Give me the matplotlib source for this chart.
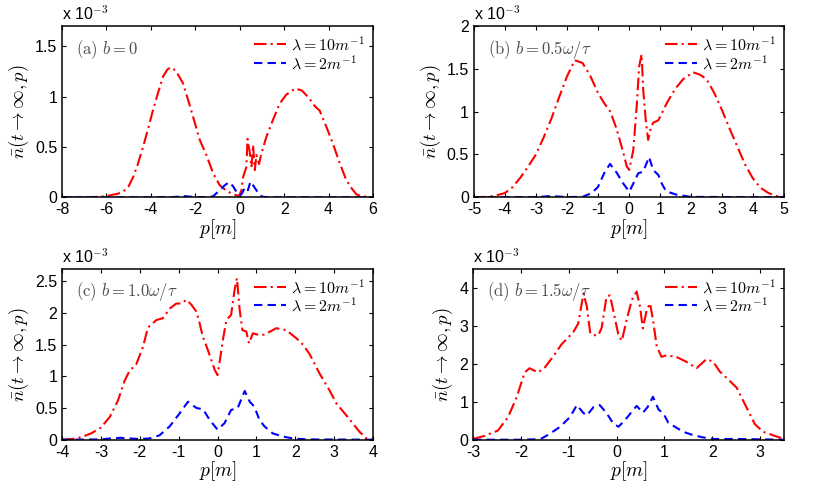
import matplotlib
matplotlib.use("Agg")
import matplotlib.pyplot as plt
from matplotlib.ticker import FuncFormatter

plt.rcParams['font.family'] = ['Liberation Sans', 'DejaVu Sans']
plt.rcParams['mathtext.fontset'] = 'cm'
plt.rcParams['axes.unicode_minus'] = False

# values are in units of 1e-3

# (a) b = 0
pa_red = [-8, -7, -6.5, -6, -5.5, -5.25, -5, -4.8, -4.6, -4.35, -4.1, -3.9, -3.7, -3.45, -3.25, -3.1,
          -2.9, -2.7, -2.55, -2.3, -2.1, -1.8, -1.5, -1.2, -0.9, -0.6, -0.3, -0.03, 0.08, 0.15, 0.3,
          0.35, 0.45, 0.53, 0.6, 0.68, 0.75, 0.87, 0.97, 1.2, 1.5, 1.8, 2.1, 2.5, 2.8, 3.1, 3.4, 3.6,
          3.9, 4.2, 4.5, 4.8, 5.0, 5.25, 5.5, 6]
na_red = [0, 0, 0.003, 0.012, 0.035, 0.056, 0.11, 0.2, 0.32, 0.5, 0.7, 0.87, 1.02, 1.2, 1.27, 1.29,
          1.26, 1.19, 1.13, 0.95, 0.8, 0.57, 0.42, 0.24, 0.12, 0.065, 0.03, 0.013, 0.07, 0.2, 0.3,
          0.58, 0.45, 0.3, 0.52, 0.27, 0.42, 0.33, 0.43, 0.6, 0.77, 0.93, 1.02, 1.08, 1.06, 0.99, 0.9, 0.86,
          0.7, 0.53, 0.34, 0.17, 0.1, 0.03, 0.01, 0.0]
pa_blue = [-8, -4, -3, -2.7, -2.5, -2.3, -2, -1.5, -1.2, -0.9, -0.67, -0.48, -0.3, -0.15, -0.03, 0.08,
           0.22, 0.3, 0.37, 0.48, 0.6, 0.75, 0.9, 1.05, 1.3, 2, 6]
na_blue = [0, 0, 0.002, 0.008, 0.012, 0.008, 0.003, 0.002, 0.01, 0.07, 0.12, 0.15, 0.11, 0.055, 0.02, 0.03,
           0.09, 0.1, 0.07, 0.155, 0.12, 0.07, 0.02, 0.005, 0, 0, 0]

# (b) b = 0.5 w/tau
pb_red = [-5, -4.6, -4.3, -4, -3.75, -3.5, -3.25, -3, -2.75, -2.5, -2.25, -2, -1.75, -1.5, -1.25, -1,
          -0.8, -0.6, -0.4, -0.18, -0.07, 0.01, 0.14, 0.25, 0.33, 0.41, 0.46, 0.55, 0.62, 0.7, 0.78,
          0.95, 1.25, 1.5, 1.75, 2.07, 2.3, 2.5, 2.75, 3, 3.25, 3.5, 3.75, 4, 4.25, 4.5, 4.75, 5]
nb_red = [0, 0.005, 0.02, 0.05, 0.12, 0.23, 0.36, 0.5, 0.7, 0.92, 1.17, 1.41, 1.6, 1.57, 1.42, 1.22,
          1.1, 1.0, 0.8, 0.52, 0.36, 0.32, 0.55, 1.06, 1.53, 1.67, 1.26, 0.87, 0.67, 0.8, 0.87,
          0.9, 1.12, 1.27, 1.38, 1.46, 1.43, 1.38, 1.22, 1.02, 0.8, 0.59, 0.38, 0.22, 0.11, 0.05, 0.015, 0.005]
pb_blue = [-5, -3, -2.7, -2.5, -2.3, -2, -1.5, -1.2, -1, -0.8, -0.61, -0.4, -0.18, 0.01, 0.14, 0.3,
           0.46, 0.65, 0.78, 0.95, 1.06, 1.2, 1.54, 2, 5]
nb_blue = [0, 0.002, 0.01, 0.015, 0.01, 0.003, 0.005, 0.05, 0.12, 0.28, 0.39, 0.29, 0.16, 0.066, 0.16, 0.28,
           0.3, 0.47, 0.32, 0.26, 0.16, 0.07, 0.03, 0.005, 0]

# (c) b = 1.0 w/tau
pc_red = [-4, -3.75, -3.5, -3.25, -3, -2.77, -2.56, -2.39, -2.26, -2.09, -1.92, -1.79, -1.57, -1.4,
          -1.23, -1.06, -0.93, -0.8, -0.67, -0.54, -0.46, -0.38, -0.25, -0.16, -0.07, 0.0, 0.05, 0.14,
          0.23, 0.35, 0.44, 0.5, 0.57, 0.64, 0.74, 0.81, 0.91, 1.08, 1.21, 1.51, 1.77, 2.03, 2.2, 2.37,
          2.63, 2.89, 3.06, 3.32, 3.49, 3.66, 3.83, 4]
nc_red = [0, 0.01, 0.04, 0.1, 0.19, 0.36, 0.62, 0.93, 1.09, 1.19, 1.46, 1.77, 1.89, 1.92,
          2.07, 2.15, 2.15, 2.21, 2.13, 2.02, 1.84, 1.63, 1.42, 1.26, 1.1, 1.02, 1.21, 1.58,
          1.89, 1.97, 2.37, 2.55, 2.05, 1.73, 1.71, 1.52, 1.68, 1.65, 1.66, 1.76, 1.73, 1.6, 1.5, 1.35,
          1.04, 0.77, 0.57, 0.38, 0.25, 0.12, 0.02, 0]
pc_blue = [-4, -3, -2.75, -2.5, -2.25, -2, -1.75, -1.49, -1.23, -0.97, -0.76, -0.54, -0.37, -0.2, 0.0,
           0.18, 0.35, 0.52, 0.7, 0.83, 0.95, 1.08, 1.21, 1.42, 1.68, 1.94, 2.3, 4]
nc_blue = [0, 0.005, 0.02, 0.03, 0.02, 0.01, 0.02, 0.07, 0.21, 0.42, 0.6, 0.5, 0.48, 0.31, 0.16,
           0.26, 0.47, 0.5, 0.77, 0.6, 0.52, 0.31, 0.21, 0.1, 0.05, 0.02, 0.005, 0]

# (d) b = 1.5 w/tau
pd_red = [-3, -2.76, -2.48, -2.27, -2.09, -1.92, -1.82, -1.64, -1.5, -1.29, -1.15, -1.01, -0.9, -0.8,
          -0.69, -0.62, -0.55, -0.48, -0.38, -0.31, -0.21, -0.14, -0.07, 0.04, 0.11, 0.21, 0.32, 0.42,
          0.49, 0.55, 0.63, 0.7, 0.77, 0.84, 0.94, 1.04, 1.25, 1.46, 1.67, 1.88, 2.02, 2.16, 2.33, 2.51,
          2.68, 2.89, 3.06, 3.31, 3.5]
nd_red = [0.02, 0.1, 0.24, 0.59, 1.11, 1.77, 1.88, 1.77, 1.9, 2.25, 2.51, 2.69, 2.84, 3.06,
          3.85, 3.5, 2.8, 2.75, 2.75, 2.95, 3.76, 3.8, 3.41, 2.75, 2.6, 3.15, 3.68, 3.9,
          3.5, 2.93, 3.41, 3.59, 3.08, 2.45, 2.18, 2.22, 2.18, 2.05, 1.88, 2.12, 2.05, 1.79, 1.59, 1.37,
          0.94, 0.41, 0.21, 0.1, 0.02]
pd_blue = [-3, -2, -1.7, -1.57, -1.4, -1.18, -0.97, -0.83, -0.69, -0.62, -0.48, -0.35, -0.21, -0.07,
           0.04, 0.18, 0.32, 0.42, 0.55, 0.65, 0.76, 0.88, 0.98, 1.08, 1.22, 1.39, 1.6, 1.81, 2.02, 2.5,
           3, 3.5]
nd_blue = [0, 0, 0.01, 0.03, 0.15, 0.34, 0.6, 0.91, 0.7, 0.64, 0.86, 0.91, 0.7, 0.43,
           0.34, 0.52, 0.74, 0.89, 0.71, 0.86, 1.13, 0.79, 0.69, 0.45, 0.34, 0.21, 0.12, 0.06, 0.02, 0.02,
           0.01, 0]

panels = [
    (pa_red, na_red, pa_blue, na_blue, (-8, 6), [-8, -6, -4, -2, 0, 2, 4, 6], 1.7, [0, 0.5, 1, 1.5],
     r"$\mathrm{(a)}\ b=0$", [0.0747, 0.6014, 0.3747, 0.346]),
    (pb_red, nb_red, pb_blue, nb_blue, (-5, 5), list(range(-5, 6)), 2.0, [0, 0.5, 1, 1.5, 2],
     r"$\mathrm{(b)}\ b=0.5\omega/\tau$", [0.571, 0.6014, 0.3735, 0.346]),
    (pc_red, nc_red, pc_blue, nc_blue, (-4, 4), list(range(-4, 5)), 2.7, [0, 0.5, 1, 1.5, 2, 2.5],
     r"$\mathrm{(c)}\ b=1.0\omega/\tau$", [0.0747, 0.1117, 0.3747, 0.3455]),
    (pd_red, nd_red, pd_blue, nd_blue, (-3, 3.5), [-3, -2, -1, 0, 1, 2, 3], 4.5, [0, 1, 2, 3, 4],
     r"$\mathrm{(d)}\ b=1.5\omega/\tau$", [0.5699, 0.1117, 0.3747, 0.3455]),
]

fig = plt.figure(figsize=(8.3, 4.95), dpi=100)

for pr, nr, pbl, nbl, xlim, xt, ytop, yt, tag, pos in panels:
    ax = fig.add_axes(pos)
    ax.plot(pr, nr, color='red', linestyle=(0, (6, 2, 1, 2)), linewidth=1.5, label=r"$\lambda = 10m^{-1}$")
    ax.plot(pbl, nbl, color='blue', linestyle=(0, (4, 2.5)), linewidth=1.5, label=r"$\lambda = 2m^{-1}$")
    ax.set_xlim(*xlim)
    ax.set_ylim(0, ytop)
    ax.set_xticks(xt)
    ax.set_yticks(yt)
    ax.xaxis.set_major_formatter(FuncFormatter(lambda v, p: "%g" % v))
    ax.yaxis.set_major_formatter(FuncFormatter(lambda v, p: "%g" % v))
    ax.tick_params(direction='in', top=True, right=True, length=3, labelsize=11.5, width=0.8)
    for s in ax.spines.values():
        s.set_linewidth(1.1)
    ax.set_xlabel(r"$p[m]$", fontsize=14, labelpad=0)
    ax.set_ylabel(r"$\bar{n}(t\rightarrow\infty,p)$", fontsize=13.5, labelpad=3)
    ax.text(0.045, 0.865, tag, transform=ax.transAxes, fontsize=12, color='0.3', va='center')
    ax.text(0.0, 1.02, r"x 10$^{-3}$", transform=ax.transAxes, fontsize=11.5, va='bottom')
    ax.legend(loc='upper right', frameon=False, fontsize=11.5, handlelength=2.0, handletextpad=0.3,
              borderaxespad=0.15, labelspacing=0.05)

fig.savefig("out.png", dpi=100)
